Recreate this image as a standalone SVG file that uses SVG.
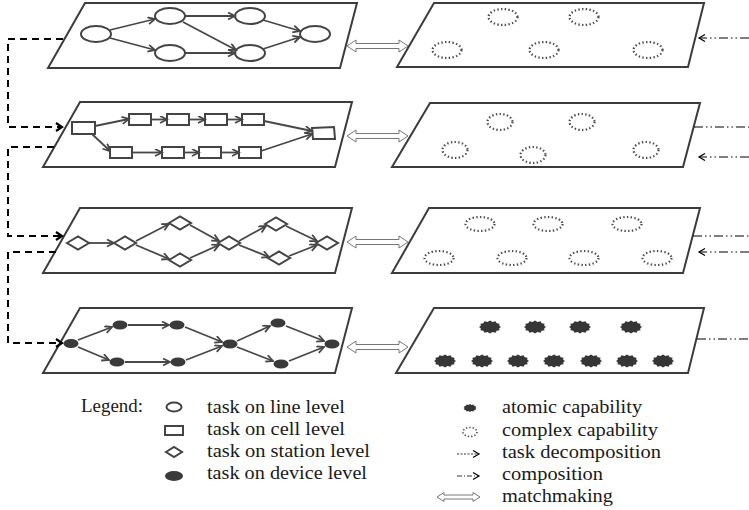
<svg xmlns="http://www.w3.org/2000/svg" xmlns:xlink="http://www.w3.org/1999/xlink" width="749" height="510" viewBox="0 0 749 510">
<style>
.panel{fill:#fff;stroke:#3c3c3c;stroke-width:2;stroke-linejoin:miter}
.tn{fill:#fff;stroke:#444;stroke-width:2}
.dev{fill:#3a3a3a}
.cx{fill:none;stroke:#4a4a4a;stroke-width:2.2;stroke-dasharray:1.4 2.3}
.at{fill:#363636}
.edge{fill:none;stroke:#474747;stroke-width:1.8;marker-end:url(#ah)}
.dec{fill:none;stroke:#000;stroke-width:2;stroke-dasharray:7 5}
.dec-end{marker-end:url(#dah)}
.comp{fill:none;stroke:#000;stroke-width:1.1;stroke-dasharray:9 3 1.5 3 1.5 3}
.comp-in{marker-end:url(#cah)}
.mm{fill:#fff;stroke:#777;stroke-width:1}
.t{font-family:'Liberation Serif','DejaVu Serif',serif;font-size:18px;fill:#1a1a1a}
</style>
<defs>
<marker id="ah" markerUnits="userSpaceOnUse" markerWidth="10" markerHeight="10" refX="8" refY="4" orient="auto"><path d="M1,0.5 L8,4 L1,7.5" fill="none" stroke="#474747" stroke-width="1.8"/></marker>
<marker id="dah" markerUnits="userSpaceOnUse" markerWidth="10" markerHeight="12" refX="7" refY="5" orient="auto"><path d="M1,1 L7,5 L1,9" fill="none" stroke="#000" stroke-width="2.2"/></marker>
<marker id="cah" markerUnits="userSpaceOnUse" markerWidth="10" markerHeight="10" refX="7" refY="4" orient="auto"><path d="M1,0.5 L7,4 L1,7.5" fill="none" stroke="#000" stroke-width="1.2"/></marker>
<path id="mmArrow" class="mm" d="M0,0 L9,-6 L9,-2.5 L52,-2.5 L52,-6 L61,0 L52,6 L52,2.5 L9,2.5 L9,6 Z"/>
<polygon id="gear" points="11,0 9.18,1.35 9.53,3.25 6.72,3.68 5.5,5.63 2.46,5.02 0,6.5 -2.46,5.02 -5.5,5.63 -6.72,3.68 -9.53,3.25 -9.18,1.35 -11,0 -9.18,-1.35 -9.53,-3.25 -6.72,-3.68 -5.5,-5.63 -2.46,-5.02 0,-6.5 2.46,-5.02 5.5,-5.63 6.72,-3.68 9.53,-3.25 9.18,-1.35"/>
</defs>
<rect width="749" height="510" fill="#fff"/>

<g id="line-level">
<polygon class="panel" points="85,3 357,3 340,68 48,68"/>
<g id="l1"><ellipse class="tn" cx="96" cy="34" rx="15" ry="8"/></g>
<g id="l2"><ellipse class="tn" cx="170" cy="16" rx="15" ry="8"/></g>
<g id="l3"><ellipse class="tn" cx="250" cy="16" rx="15" ry="8"/></g>
<g id="l4"><ellipse class="tn" cx="170" cy="53" rx="15" ry="8"/></g>
<g id="l5"><ellipse class="tn" cx="250" cy="53" rx="15" ry="8"/></g>
<g id="l6"><ellipse class="tn" cx="315" cy="34" rx="15" ry="8"/></g>
</g>

<g id="cell-level">
<polygon class="panel" points="80,102 352,102 335,167 43,167"/>
<g id="c1"><rect class="tn" x="72" y="122" width="23" height="12"/></g>
<g id="c2"><rect class="tn" x="129" y="114" width="22" height="11"/></g>
<g id="c3"><rect class="tn" x="167" y="114" width="22" height="11"/></g>
<g id="c4"><rect class="tn" x="205" y="114" width="22" height="11"/></g>
<g id="c5"><rect class="tn" x="242" y="114" width="22" height="11"/></g>
<g id="c6"><rect class="tn" x="110" y="147" width="22" height="11"/></g>
<g id="c7"><rect class="tn" x="162" y="147" width="22" height="11"/></g>
<g id="c8"><rect class="tn" x="199" y="147" width="22" height="11"/></g>
<g id="c9"><rect class="tn" x="239" y="147" width="22" height="11"/></g>
<g id="c10"><polygon class="tn" points="312,128 334,127 335,139 313,139"/></g>
</g>

<g id="station-level">
<polygon class="panel" points="80,208 352,208 335,273 43,273"/>
<g id="s1"><polygon class="tn" points="67,243 78,236.5 89,243 78,249.5"/></g>
<g id="s2"><polygon class="tn" points="114,243 125,236.5 136,243 125,249.5"/></g>
<g id="s3"><polygon class="tn" points="169,223 180,216.5 191,223 180,229.5"/></g>
<g id="s4"><polygon class="tn" points="169,260 180,253.5 191,260 180,266.5"/></g>
<g id="s5"><polygon class="tn" points="218,243 229,236.5 240,243 229,249.5"/></g>
<g id="s6"><polygon class="tn" points="265,224 276,217.5 287,224 276,230.5"/></g>
<g id="s7"><polygon class="tn" points="268,258 279,251.5 290,258 279,264.5"/></g>
<g id="s8"><polygon class="tn" points="316,243 327,236.5 338,243 327,249.5"/></g>
</g>

<g id="device-level">
<polygon class="panel" points="80,308 352,308 335,373 43,373"/>
<g id="d1"><ellipse class="dev" cx="71" cy="343.5" rx="7.5" ry="4.5"/></g>
<g id="d2"><ellipse class="dev" cx="120" cy="325" rx="7.5" ry="4.5"/></g>
<g id="d3"><ellipse class="dev" cx="177" cy="325" rx="7.5" ry="4.5"/></g>
<g id="d4"><ellipse class="dev" cx="117" cy="362" rx="7.5" ry="4.5"/></g>
<g id="d5"><ellipse class="dev" cx="178" cy="362" rx="7.5" ry="4.5"/></g>
<g id="d6"><ellipse class="dev" cx="230" cy="344" rx="7.5" ry="4.5"/></g>
<g id="d7"><ellipse class="dev" cx="278" cy="323" rx="7.5" ry="4.5"/></g>
<g id="d8"><ellipse class="dev" cx="281" cy="364" rx="7.5" ry="4.5"/></g>
<g id="d9"><ellipse class="dev" cx="332" cy="344" rx="7.5" ry="4.5"/></g>
</g>

<g id="cap-line">
<polygon class="panel" points="434,3 704,3 688,67 397,67"/>
<ellipse class="cx" cx="503" cy="17" rx="14.5" ry="8"/>
<ellipse class="cx" cx="584" cy="17" rx="14.5" ry="8"/>
<ellipse class="cx" cx="447" cy="50" rx="14.5" ry="8"/>
<ellipse class="cx" cx="544" cy="50" rx="14.5" ry="8"/>
<ellipse class="cx" cx="648" cy="50" rx="14.5" ry="8"/>
</g>
<g id="cap-cell">
<polygon class="panel" points="430,103 700,103 683,167 392,167"/>
<ellipse class="cx" cx="500" cy="122" rx="12.5" ry="8"/>
<ellipse class="cx" cx="582" cy="122" rx="12.5" ry="8"/>
<ellipse class="cx" cx="455" cy="150" rx="12.5" ry="8"/>
<ellipse class="cx" cx="533" cy="155" rx="12.5" ry="8"/>
<ellipse class="cx" cx="646" cy="150" rx="12.5" ry="8"/>
</g>
<g id="cap-station">
<polygon class="panel" points="429,208 700,208 683,273 392,273"/>
<ellipse class="cx" cx="480" cy="224" rx="14.5" ry="7"/>
<ellipse class="cx" cx="548" cy="224" rx="14.5" ry="7"/>
<ellipse class="cx" cx="627" cy="224" rx="14.5" ry="7"/>
<ellipse class="cx" cx="439" cy="258" rx="14.5" ry="7"/>
<ellipse class="cx" cx="512" cy="258" rx="14.5" ry="7"/>
<ellipse class="cx" cx="584" cy="258" rx="14.5" ry="7"/>
<ellipse class="cx" cx="657" cy="258" rx="14.5" ry="7"/>
</g>
<g id="cap-device">
<polygon class="panel" points="434,308 704,308 688,373 396,373"/>
<use href="#gear" class="at" x="490" y="327"/>
<use href="#gear" class="at" x="535" y="327"/>
<use href="#gear" class="at" x="580" y="327"/>
<use href="#gear" class="at" x="631" y="327"/>
<use href="#gear" class="at" x="445" y="361"/>
<use href="#gear" class="at" x="482" y="361"/>
<use href="#gear" class="at" x="518" y="361"/>
<use href="#gear" class="at" x="554" y="361"/>
<use href="#gear" class="at" x="591" y="361"/>
<use href="#gear" class="at" x="627" y="361"/>
<use href="#gear" class="at" x="663" y="361"/>
</g>

<g id="connectors">
<path class="edge" d="M110,30 L155,19"/>
<path class="edge" d="M110,38 L155,50"/>
<path class="edge" d="M185,16 L235,16"/>
<path class="edge" d="M183,22 L236,50"/>
<path class="edge" d="M185,53 L235,53"/>
<path class="edge" d="M263,20 L300,31"/>
<path class="edge" d="M263,49 L300,37"/>
<path class="edge" d="M95,126 L129,119"/>
<path class="edge" d="M92,134 L110,151"/>
<path class="edge" d="M151,119.5 L167,119.5"/>
<path class="edge" d="M189,119.5 L205,119.5"/>
<path class="edge" d="M227,119.5 L242,119.5"/>
<path class="edge" d="M264,121 L312,131"/>
<path class="edge" d="M132,152.5 L162,152.5"/>
<path class="edge" d="M184,152.5 L199,152.5"/>
<path class="edge" d="M221,152.5 L239,152.5"/>
<path class="edge" d="M261,151 L312,134"/>
<path class="edge" d="M89,243 L114,243"/>
<path class="edge" d="M136,241 L169,224"/>
<path class="edge" d="M136,245 L169,259"/>
<path class="edge" d="M190,225 L219,241"/>
<path class="edge" d="M190,258 L219,245"/>
<path class="edge" d="M239,241 L266,226"/>
<path class="edge" d="M239,245 L269,257"/>
<path class="edge" d="M286,226 L317,241"/>
<path class="edge" d="M289,256 L317,245"/>
<path class="edge" d="M78,340 L112,327"/>
<path class="edge" d="M78,347 L109,360"/>
<path class="edge" d="M128,325 L169,325"/>
<path class="edge" d="M125,362 L170,362"/>
<path class="edge" d="M185,327 L222,342"/>
<path class="edge" d="M186,360 L222,346"/>
<path class="edge" d="M237,341 L270,326"/>
<path class="edge" d="M237,347 L273,361"/>
<path class="edge" d="M286,326 L324,341"/>
<path class="edge" d="M289,361 L324,347"/>
<path class="dec dec-end" d="M63,39 H8 V127 H62"/>
<path class="dec dec-end" d="M54,147 H8 V236 H62"/>
<path class="dec dec-end" d="M56,252 H8 V343 H62"/>
<path class="comp comp-in" d="M749,38 H699"/>
<path class="comp" d="M694,127 H749"/>
<path class="comp comp-in" d="M749,157 H699"/>
<path class="comp" d="M693,236 H749"/>
<path class="comp comp-in" d="M749,252 H699"/>
<path class="comp" d="M697,339 H749"/>
<use href="#mmArrow" x="347" y="46"/>
<use href="#mmArrow" x="347" y="136"/>
<use href="#mmArrow" x="347" y="242"/>
<use href="#mmArrow" x="347" y="347"/>
</g>

<g id="legend" font-family="Liberation Serif, DejaVu Serif, serif">
<text class="t" font-family="Liberation Serif, serif" x="81" y="412" textLength="62" lengthAdjust="spacingAndGlyphs">Legend:</text>
<ellipse class="tn" cx="174" cy="407" rx="7.5" ry="4.5"/>
<text class="t" font-family="Liberation Serif, serif" x="207" y="413" textLength="138" lengthAdjust="spacingAndGlyphs">task on line level</text>
<rect class="tn" x="165" y="426" width="18" height="9"/>
<text class="t" font-family="Liberation Serif, serif" x="207" y="435" textLength="138" lengthAdjust="spacingAndGlyphs">task on cell level</text>
<polygon class="tn" points="166,452 174,447 182,452 174,457"/>
<text class="t" font-family="Liberation Serif, serif" x="207" y="457" textLength="163" lengthAdjust="spacingAndGlyphs">task on station level</text>
<ellipse class="dev" cx="174" cy="476" rx="9" ry="5"/>
<text class="t" font-family="Liberation Serif, serif" x="207" y="479" textLength="160" lengthAdjust="spacingAndGlyphs">task on device level</text>

<use href="#gear" class="at" transform="translate(470,408) scale(0.6)"/>
<text class="t" font-family="Liberation Serif, serif" x="502" y="413" textLength="140" lengthAdjust="spacingAndGlyphs">atomic capability</text>
<ellipse class="cx" cx="470" cy="432" rx="7" ry="4.5" style="stroke-width:1.6;stroke-dasharray:1.3 2"/>
<text class="t" font-family="Liberation Serif, serif" x="502" y="436" textLength="156" lengthAdjust="spacingAndGlyphs">complex capability</text>
<path d="M457,454 H479" fill="none" stroke="#333" stroke-width="1" stroke-dasharray="2 1.5" marker-end="url(#cah)"/>
<text class="t" font-family="Liberation Serif, serif" x="502" y="458" textLength="159" lengthAdjust="spacingAndGlyphs">task decomposition</text>
<path d="M457,476 H479" fill="none" stroke="#333" stroke-width="1" stroke-dasharray="5 2 1 2" marker-end="url(#cah)"/>
<text class="t" font-family="Liberation Serif, serif" x="502" y="480" textLength="101" lengthAdjust="spacingAndGlyphs">composition</text>
<path class="mm" d="M437,497 l7,-4.5 v2.5 h29 v-2.5 l7,4.5 l-7,4.5 v-2.5 h-29 v2.5 z"/>
<text class="t" font-family="Liberation Serif, serif" x="502" y="502" textLength="111" lengthAdjust="spacingAndGlyphs">matchmaking</text>
</g>
</svg>
